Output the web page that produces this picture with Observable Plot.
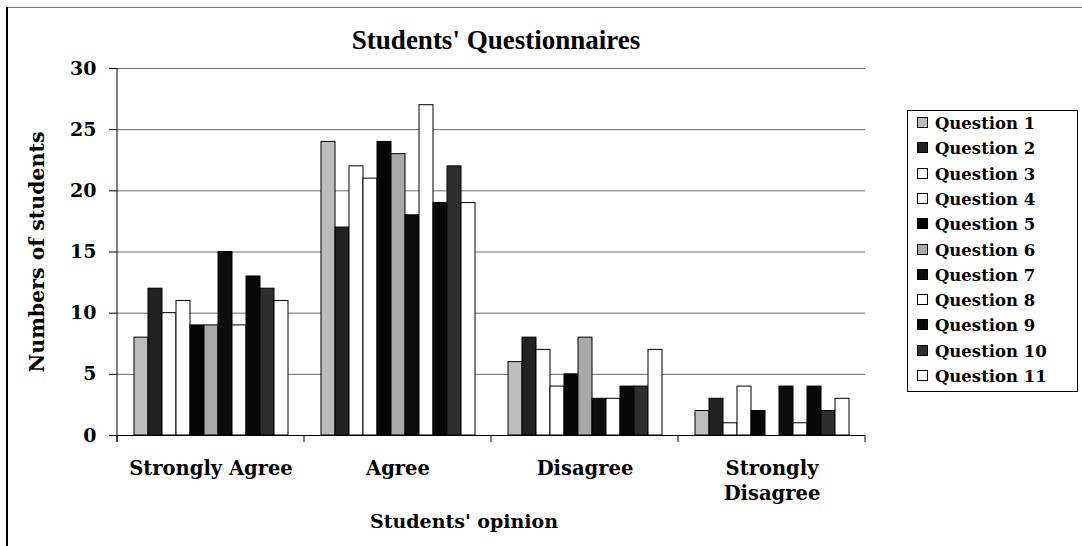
<!DOCTYPE html>
<html>
<head>
<meta charset="utf-8">
<script src="https://cdn.jsdelivr.net/npm/d3@7"></script>
<script src="https://cdn.jsdelivr.net/npm/@observablehq/plot@0.6"></script>
<style>
  html, body { margin: 0; padding: 0; background: #fff; }
  #wrap { position: relative; width: 1082px; height: 546px; overflow: hidden; background: #fff;
          font-family: "DejaVu Serif", serif; font-weight: bold; color: #000; }
  #plot { position: absolute; left: 0; top: 0; }
  .abs { position: absolute; white-space: nowrap; }
  #frameTop { position: absolute; left: 7px; top: 7px; width: 1075px; height: 0; border-top: 1.5px solid #777; }
  #frameLeft { position: absolute; left: 6px; top: 7px; width: 0; height: 539px; border-left: 2px solid #000; }
  #title { left: 496px; top: 40px; font-family: "Liberation Serif", serif; font-size: 27px; transform: translate(-50%, -50%); }
  #ytitle { left: 37px; top: 252px; font-size: 20.5px; transform: translate(-50%, -50%) rotate(-90deg); }
  #xtitle { left: 464px; top: 521px; font-size: 19px; transform: translate(-50%, -50%); }
  #legend { left: 907px; top: 110px; width: 171px; height: 282px; border: 1px solid #000; box-sizing: border-box; }
  .li { position: absolute; left: 9px; height: 20px; font-size: 16.5px; line-height: 20px; }
  .sw { display: inline-block; width: 11px; height: 11px; border: 1px solid #000; box-sizing: border-box;
        vertical-align: middle; margin-right: 7px; position: relative; top: -2px; }
</style>
</head>
<body>
<div id="wrap">
  <div id="frameTop"></div>
  <div id="frameLeft"></div>
  <div id="plot"></div>
  <div id="title" class="abs">Students' Questionnaires</div>
  <div id="ytitle" class="abs">Numbers of students</div>
  <div id="xtitle" class="abs">Students' opinion</div>
  <div id="legend" class="abs"></div>
</div>
<script>
// ---- data ----
const categories = ["Strongly Agree", "Agree", "Disagree", "Strongly Disagree"];
const categoryLabels = ["Strongly Agree", "Agree", "Disagree", "Strongly\nDisagree"];
const questions = ["Question 1", "Question 2", "Question 3", "Question 4", "Question 5", "Question 6",
                   "Question 7", "Question 8", "Question 9", "Question 10", "Question 11"];
const stronglyAgree    = [8, 12, 10, 11, 9, 9, 15, 9, 13, 12, 11];
const agree            = [24, 17, 22, 21, 24, 23, 18, 27, 19, 22, 19];
const disagree         = [6, 8, 7, 4, 5, 8, 3, 3, 4, 4, 7];
const stronglyDisagree = [2, 3, 1, 4, 2, 0, 4, 1, 4, 2, 3];
const yTicks = [0, 5, 10, 15, 20, 25, 30];
const fills = ["#bdbdbd", "#222222", "#ffffff", "#ffffff", "#050505", "#a8a8a8",
               "#0d0d0d", "#ffffff", "#080808", "#2e2e2e", "#ffffff"];

const seriesByCategory = [stronglyAgree, agree, disagree, stronglyDisagree];
const table = [];
categories.forEach((c, i) => questions.forEach((q, j) => table.push({cat: c, q, v: seriesByCategory[i][j]})));
const labelOf = new Map(categories.map((c, i) => [c, categoryLabels[i]]));

const plot = Plot.plot({
  width: 1082, height: 546,
  marginLeft: 115, marginRight: 216, marginTop: 68, marginBottom: 111,
  style: {fontFamily: "DejaVu Serif", fontWeight: "bold", color: "#000", background: "transparent"},
  fx: {domain: categories, padding: 0, label: null},
  x: {domain: questions, paddingInner: 0, paddingOuter: 0.8, axis: null},
  y: {domain: [0, 30]},
  color: {domain: questions, range: fills},
  marks: [
    Plot.ruleY(yTicks.slice(1), {stroke: "#6a6a6a", strokeWidth: 1}),
    Plot.barY(table, {fx: "cat", x: "q", y: "v", fill: "q", stroke: "#000", strokeWidth: 1}),
    Plot.ruleY([0], {stroke: "#000", strokeWidth: 1}),
    Plot.axisY({ticks: yTicks, tickSize: 8, tickPadding: 13, fontSize: 19, label: null, tickFormat: d => String(d)}),
    Plot.axisFx({anchor: "bottom", tickSize: 0, tickPadding: 21, fontSize: 19.5, lineHeight: 1.3,
                 label: null, tickFormat: d => labelOf.get(d)})
  ]
});
document.getElementById("plot").appendChild(plot);

// axis line and category boundary ticks drawn from the plot's own scales
const fx = plot.scale("fx"), y = plot.scale("y");
const svg = d3.select(plot);
const y0 = y.apply(0), y30 = y.apply(30);
const left = fx.apply(categories[0]);
const bounds = categories.map(c => fx.apply(c)).concat([fx.apply(categories[categories.length - 1]) + fx.bandwidth]);
const g = svg.append("g").attr("stroke", "#000").attr("stroke-width", 1);
g.append("line").attr("x1", left).attr("x2", left).attr("y1", y30).attr("y2", y0 + 7);
bounds.forEach(b => g.append("line").attr("x1", b).attr("x2", b).attr("y1", y0).attr("y2", y0 + 7));

// legend
const legend = document.getElementById("legend");
questions.forEach((q, i) => {
  const d = document.createElement("div");
  d.className = "li";
  d.style.top = (3 + i * 25.3) + "px";
  d.innerHTML = `<span class="sw" style="background:${fills[i]}"></span>${q}`;
  legend.appendChild(d);
});
</script>
</body>
</html>
